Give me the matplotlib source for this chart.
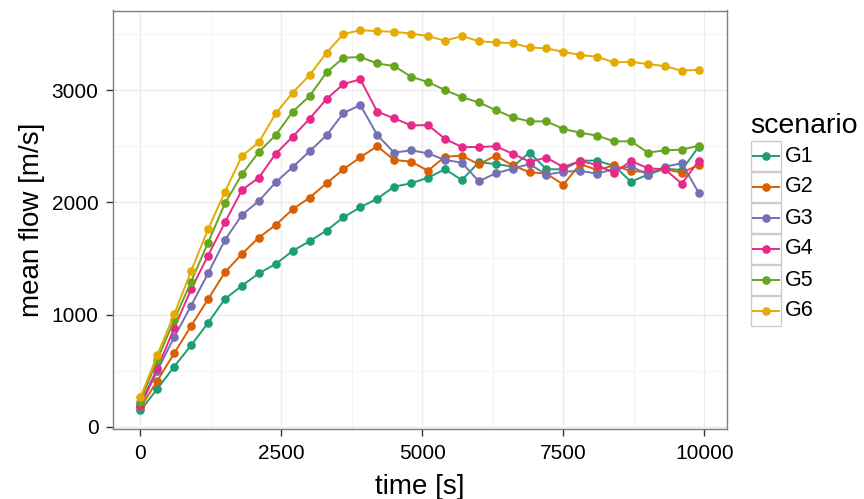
import matplotlib
matplotlib.use("Agg")
import matplotlib.pyplot as plt
from matplotlib.lines import Line2D
from matplotlib.patches import Rectangle
from matplotlib.ticker import MultipleLocator

plt.rcParams["font.family"] = ["Liberation Sans", "DejaVu Sans"]

time_s = [i * 300 for i in range(34)]

g1 = [145, 338, 537, 727, 926, 1140, 1256, 1368, 1451, 1567, 1654, 1748,
      1867, 1956, 2033, 2140, 2170, 2220, 2295, 2199, 2357, 2342, 2318, 2443,
      2295, 2295, 2372, 2372, 2324, 2185, 2247, 2300, 2288, 2496]
g2 = [172, 410, 656, 899, 1137, 1378, 1540, 1686, 1799, 1938, 2042, 2170,
      2295, 2402, 2500, 2378, 2363, 2282, 2407, 2416, 2339, 2416, 2330, 2268,
      2256, 2158, 2342, 2288, 2330, 2277, 2273, 2295, 2265, 2333]
g3 = [185, 501, 799, 1080, 1368, 1665, 1888, 2012, 2179, 2315, 2455, 2597,
      2796, 2867, 2600, 2443, 2464, 2437, 2378, 2354, 2188, 2259, 2300, 2342,
      2247, 2273, 2280, 2256, 2297, 2321, 2247, 2318, 2348, 2086]
g4 = [195, 520, 879, 1226, 1526, 1822, 2110, 2220, 2434, 2585, 2745, 2921,
      3054, 3096, 2808, 2749, 2686, 2689, 2567, 2493, 2493, 2500, 2434, 2363,
      2398, 2315, 2369, 2333, 2262, 2369, 2304, 2295, 2167, 2369]
g5 = [225, 597, 953, 1294, 1641, 1992, 2250, 2449, 2600, 2808, 2947, 3158,
      3289, 3295, 3238, 3215, 3120, 3072, 3001, 2938, 2891, 2823, 2758, 2722,
      2722, 2654, 2621, 2594, 2544, 2544, 2443, 2464, 2470, 2505]
g6 = [261, 641, 1003, 1389, 1760, 2096, 2413, 2535, 2793, 2977, 3134, 3333,
      3500, 3535, 3526, 3520, 3505, 3482, 3440, 3482, 3437, 3425, 3419, 3381,
      3372, 3342, 3313, 3298, 3247, 3253, 3232, 3215, 3173, 3182]

scenarios = ["G1", "G2", "G3", "G4", "G5", "G6"]
series = [g1, g2, g3, g4, g5, g6]
colors = ["#1B9E77", "#D95F02", "#7570B3", "#E7298A", "#66A61E", "#E6AB02"]

W, H = 864, 499


def fx(px):
    return px / W


def fy(py):
    return 1 - py / H


# panel edges in pixels
left, right, top, bottom = 112.5, 726.6, 10.5, 429.0

fig = plt.figure(figsize=(W / 100, H / 100), dpi=100)
ax = fig.add_axes([fx(left), fy(bottom), (right - left) / W, (bottom - top) / H])

for name, values, color in zip(scenarios, series, colors):
    ax.plot(time_s, values, color=color, linewidth=1.4, marker="o",
            markersize=5.2, label=name, zorder=3)

ax.set_xlim(-495, 10395)
ax.set_ylim(-20, 3710)
ax.xaxis.set_major_locator(MultipleLocator(2500))
ax.xaxis.set_minor_locator(MultipleLocator(1250))
ax.yaxis.set_major_locator(MultipleLocator(1000))
ax.yaxis.set_minor_locator(MultipleLocator(500))

ax.grid(which="major", color="#EBEBEB", linewidth=1.0)
ax.grid(which="minor", color="#F4F4F4", linewidth=0.8)
ax.set_axisbelow(True)
for spine in ax.spines.values():
    spine.set_color("#7F7F7F")
    spine.set_linewidth(1.0)

ax.tick_params(which="major", length=5, width=1, color="#333333",
               labelsize=15, labelcolor="black")
ax.tick_params(axis="x", pad=6)
ax.tick_params(axis="y", pad=5)
ax.tick_params(which="minor", length=0)

ax.set_xlabel("time [s]", fontsize=20, labelpad=8)
ax.set_ylabel("mean flow [m/s]", fontsize=20, labelpad=4.5)

# legend drawn as ggplot-style keys
fig.text(fx(750), fy(133), "scenario", fontsize=20.5, va="baseline", ha="left")
key_top = 141
step = 31
for k, (name, color) in enumerate(zip(scenarios, colors)):
    y0 = key_top + k * step
    fig.add_artist(Rectangle((fx(751), fy(y0 + step - 1)), 29.5 / W,
                             (step - 1) / H, transform=fig.transFigure,
                             facecolor="white", edgecolor="#CCCCCC",
                             linewidth=1.0))
    ymid = fy(y0 + step / 2 - 0.5)
    fig.add_artist(Line2D([fx(753), fx(779)], [ymid, ymid],
                          transform=fig.transFigure, color=color,
                          linewidth=1.4))
    fig.add_artist(Line2D([fx(766)], [ymid], transform=fig.transFigure,
                          color=color, marker="o", markersize=5.2))
    fig.text(fx(785), ymid, name, fontsize=15.5, va="center", ha="left")

fig.savefig("out.png", dpi=100)
